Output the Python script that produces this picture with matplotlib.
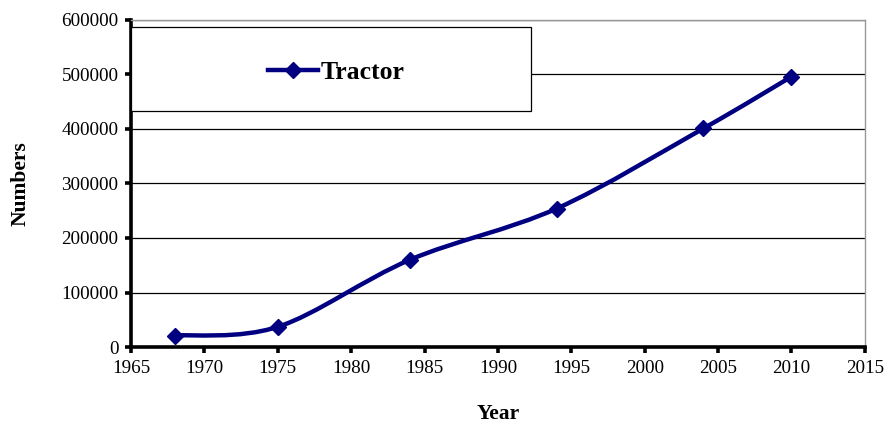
import matplotlib.pyplot as plt
import matplotlib
from matplotlib.path import Path
from matplotlib.patches import PathPatch, Rectangle
from matplotlib.lines import Line2D

# Tractor numbers by year
years = [1968, 1975, 1984, 1994, 2004, 2010]
tractors = [21000, 37000, 160000, 254000, 401000, 496000]

navy = '#000080'
matplotlib.rc('font', family='Liberation Serif', size=10)


def smooth_path(xs, ys):
    # Excel-like smoothed line: Catmull-Rom as cubic Bezier segments
    pts = list(zip(xs, ys))
    verts = [pts[0]]
    codes = [Path.MOVETO]
    for i in range(len(pts) - 1):
        p0 = pts[i - 1] if i > 0 else pts[i]
        p1 = pts[i]
        p2 = pts[i + 1]
        p3 = pts[i + 2] if i + 2 < len(pts) else pts[i + 1]
        c1 = (p1[0] + (p2[0] - p0[0]) / 6, p1[1] + (p2[1] - p0[1]) / 6)
        c2 = (p2[0] - (p3[0] - p1[0]) / 6, p2[1] - (p3[1] - p1[1]) / 6)
        verts += [c1, c2, p2]
        codes += [Path.CURVE4] * 3
    return Path(verts, codes)


fig = plt.figure(figsize=(8.87, 4.25), dpi=100)
ax = fig.add_axes([0.1477, 0.1835, 0.8273, 0.7695])

ax.set_xlim(1965, 2015)
ax.set_ylim(0, 600000)
ax.set_xticks(range(1965, 2016, 5))
ax.set_yticks(range(0, 600001, 100000))
ax.yaxis.grid(True, color='black', linewidth=0.9)
ax.set_axisbelow(True)

ax.add_patch(PathPatch(smooth_path(years, tractors), facecolor='none',
                       edgecolor=navy, linewidth=3.2, zorder=3))
ax.plot(years, tractors, linestyle='none', marker='D', markersize=8.5,
        color=navy, zorder=4)

for side in ['left', 'bottom']:
    ax.spines[side].set_linewidth(2.6)
    ax.spines[side].set_color('black')
for side in ['top', 'right']:
    ax.spines[side].set_linewidth(1.0)
    ax.spines[side].set_color('#999999')

ax.tick_params(direction='out', length=4, width=2.6, labelsize=13.8, pad=5)

ax.set_xlabel('Year', fontweight='bold', fontsize=15.5, labelpad=20)
ax.set_ylabel('Numbers', fontweight='bold', fontsize=15.5, labelpad=22)

# legend box over the grid
box = Rectangle((0, 0.722), 0.545, 0.257, transform=ax.transAxes,
                facecolor='white', edgecolor='black', linewidth=0.9, zorder=5)
ax.add_patch(box)
handle = Line2D([], [], color=navy, linewidth=3.2, marker='D', markersize=8.5)
leg = ax.legend([handle], ['Tractor'], loc='center',
                bbox_to_anchor=(0.007, 0.712, 0.545, 0.257), frameon=False,
                prop={'weight': 'bold', 'size': 18.5}, handlelength=1.95,
                handletextpad=0.1)
leg.set_zorder(6)

plt.savefig('out.png', dpi=100)
